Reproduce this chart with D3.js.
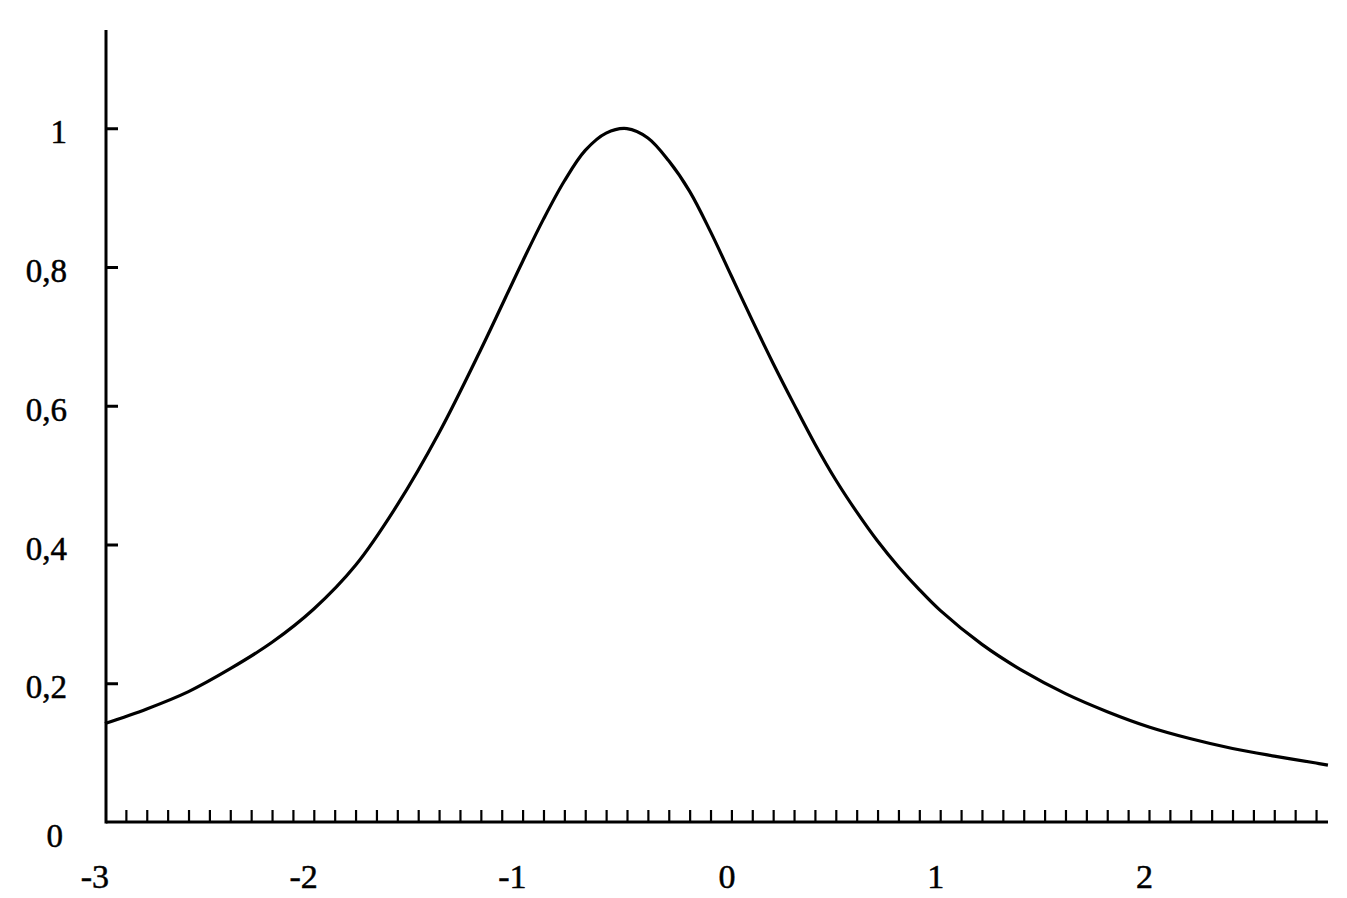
<!DOCTYPE html>
<html>
<head>
<meta charset="utf-8">
<script src="https://cdn.jsdelivr.net/npm/d3@7"></script>
<style>
  html, body { margin: 0; padding: 0; background: #fff; }
  svg { display: block; }
  .lbl { fill: #000; stroke: #000; stroke-width: 0.5; }
</style>
</head>
<body>
<svg id="chart" width="1347" height="898"></svg>
<script>
// ---- data ----
const curveX = [-3.0, -2.8, -2.6, -2.4, -2.2, -2.0, -1.8, -1.6, -1.4, -1.2,
                -1.0, -0.9, -0.8, -0.7, -0.6, -0.5, -0.4, -0.3, -0.2, -0.1,
                0.0, 0.1, 0.2, 0.3, 0.4, 0.5, 0.6, 0.7, 0.8, 0.9,
                1.0, 1.2, 1.4, 1.6, 1.8, 2.0, 2.2, 2.4, 2.6, 2.8, 2.857];
const curveY = [0.142, 0.163, 0.188, 0.221, 0.259, 0.307, 0.370, 0.457, 0.561, 0.681,
                0.808, 0.869, 0.924, 0.968, 0.993, 0.9995, 0.986, 0.953, 0.909, 0.851,
                0.787, 0.723, 0.661, 0.602, 0.545, 0.493, 0.447, 0.405, 0.368, 0.335,
                0.305, 0.256, 0.217, 0.185, 0.159, 0.137, 0.120, 0.106, 0.095, 0.085, 0.082];
const xTickLabels = [-3, -2, -1, 0, 1, 2];
const yTickValues = [0.2, 0.4, 0.6, 0.8, 1];
const yTickLabels = ["0", "0,2", "0,4", "0,6", "0,8", "1"];
const yLabelValues = [0, 0.2, 0.4, 0.6, 0.8, 1];
const xMinorTicks = d3.range(-29, 29).map(i => i / 10);

// ---- layout ----
const svg = d3.select("#chart");
const x = d3.scaleLinear().domain([-3, 2]).range([105, 1149]);
const y = d3.scaleLinear().domain([0, 1]).range([822, 128.25]);
const xEnd = 1328, yTop = 30;
const serif = '"Liberation Serif", "Times New Roman", serif';

const axisW = 3;

// minor ticks on x axis (upward)
const xAxis = d3.axisBottom(x).tickValues(xMinorTicks).tickSize(-12).tickSizeOuter(0).tickFormat("");
const gx = svg.append("g").attr("transform", `translate(0,${y(0)})`).call(xAxis);
gx.select(".domain").remove();
gx.selectAll(".tick line").attr("stroke", "#000").attr("stroke-width", 2.2);

// y axis ticks (inward, to the right)
const yAxis = d3.axisRight(y).tickValues(yTickValues).tickSize(12).tickSizeOuter(0).tickFormat("");
const gy = svg.append("g").attr("transform", `translate(${x(-3) + 1},0)`).call(yAxis);
gy.select(".domain").remove();
gy.selectAll(".tick line").attr("stroke", "#000").attr("stroke-width", 3);

// axis lines
svg.append("line").attr("x1", x(-3) + 1).attr("x2", x(-3) + 1)
  .attr("y1", yTop).attr("y2", y(0) + 1.5)
  .attr("stroke", "#000").attr("stroke-width", axisW);
svg.append("line").attr("x1", x(-3) + 1).attr("x2", xEnd)
  .attr("y1", y(0)).attr("y2", y(0))
  .attr("stroke", "#000").attr("stroke-width", axisW);

// x labels
svg.append("g").selectAll("text").data(xTickLabels).join("text")
  .attr("class", "lbl")
  .style("font-family", serif)
  .attr("x", d => x(d) + 4)
  .attr("y", 888)
  .attr("text-anchor", "end")
  .attr("font-size", 34)
  .text(d => String(d));

// y labels
svg.append("g").selectAll("text").data(yLabelValues).join("text")
  .attr("class", "lbl")
  .style("font-family", serif)
  .attr("x", d => d === 0 ? 63 : 67)
  .attr("y", d => d === 0 ? 847 : y(d) + 15)
  .attr("text-anchor", "end")
  .attr("font-size", 33)
  .text((d, i) => yTickLabels[i]);

// curve
const pts = curveX.map((v, i) => [v, curveY[i]]);
const line = d3.line().x(d => x(d[0])).y(d => y(d[1])).curve(d3.curveCatmullRom.alpha(0.5));
svg.append("path").datum(pts)
  .attr("d", line)
  .attr("fill", "none")
  .attr("stroke", "#000")
  .attr("stroke-width", 3.2)
  .attr("stroke-linejoin", "round");
</script>
</body>
</html>
